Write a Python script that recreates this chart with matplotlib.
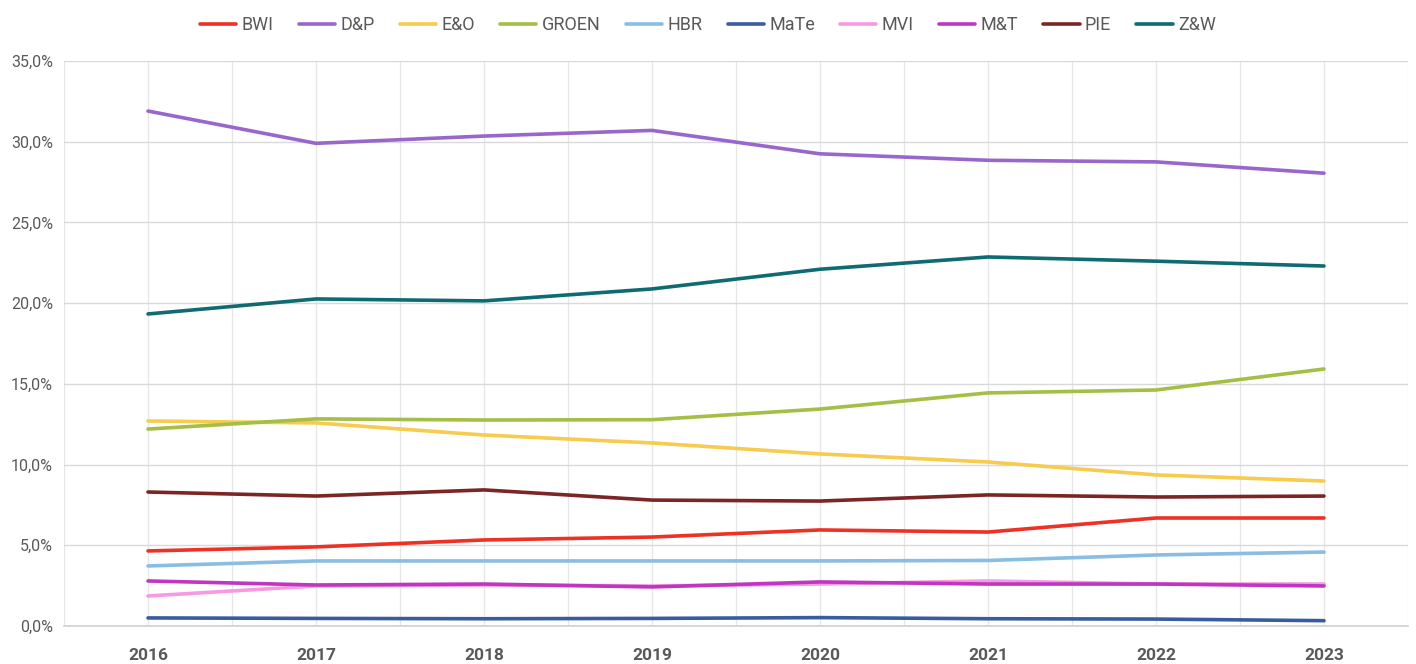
import matplotlib
matplotlib.use("Agg")
import matplotlib.pyplot as plt
from matplotlib.ticker import FuncFormatter, MultipleLocator

years = ["2016", "2017", "2018", "2019", "2020", "2021", "2022", "2023"]

BWI = [4.65, 4.90, 5.33, 5.51, 5.95, 5.82, 6.69, 6.69]
DP = [31.9, 29.9, 30.35, 30.7, 29.25, 28.85, 28.75, 28.05]
EO = [12.7, 12.58, 11.83, 11.34, 10.66, 10.16, 9.36, 8.98]
GROEN = [12.2, 12.83, 12.76, 12.78, 13.44, 14.44, 14.62, 15.92]
HBR = [3.72, 4.03, 4.03, 4.03, 4.03, 4.06, 4.40, 4.58]
MaTe = [0.50, 0.47, 0.45, 0.47, 0.52, 0.45, 0.43, 0.33]
MVI = [1.86, 2.48, 2.54, 2.48, 2.60, 2.79, 2.60, 2.60]
MT = [2.79, 2.54, 2.60, 2.42, 2.73, 2.60, 2.60, 2.48]
PIE = [8.30, 8.05, 8.43, 7.80, 7.74, 8.12, 7.99, 8.05]
ZW = [19.33, 20.26, 20.14, 20.88, 22.10, 22.86, 22.60, 22.30]

names = ["BWI", "D&P", "E&O", "GROEN", "HBR", "MaTe", "MVI", "M&T", "PIE", "Z&W"]
series = [BWI, DP, EO, GROEN, HBR, MaTe, MVI, MT, PIE, ZW]
colors = ["#EE3124", "#9966CC", "#F7CB4D", "#A5BE45", "#89BDE3", "#3A5C9E",
          "#F79AE3", "#C036C0", "#7B2525", "#0E6B72"]

plt.rcParams['font.family'] = ['Roboto', 'DejaVu Sans']

fig = plt.figure(figsize=(14.16, 6.64), dpi=100)
ax = fig.add_axes([64/1416, 38/664, (1408-64)/1416, (626-61)/664])

x = list(range(len(years)))
for name, vals, c in zip(names, series, colors):
    ax.plot(x, vals, color=c, lw=2.6, label=name, solid_capstyle='round', zorder=3)

ax.set_xlim(-0.5, len(years) - 0.5)
ax.set_ylim(0, 35)
ax.set_xticks(x)
ax.set_xticklabels(years)
ax.set_xticks([i + 0.5 for i in range(-1, len(years))], minor=True)
ax.yaxis.set_major_locator(MultipleLocator(5))
ax.yaxis.set_major_formatter(FuncFormatter(lambda v, p: f"{v:.1f}%".replace(".", ",")))

ax.grid(True, which='major', axis='both', color='#E6E6E6', lw=0.9, zorder=0)
ax.grid(True, which='minor', axis='x', color='#E6E6E6', lw=0.9, zorder=0)
ax.grid(True, which='major', axis='y', color='#D9D9D9', lw=1.0, zorder=0)

for s in ['top', 'right', 'left']:
    ax.spines[s].set_visible(False)
ax.spines['bottom'].set_color('#D0D0D0')
ax.spines['bottom'].set_linewidth(1.2)

ax.tick_params(axis='both', which='both', length=0)
ax.tick_params(axis='x', pad=16, labelsize=12.5, labelcolor='#595959')
ax.tick_params(axis='y', pad=8, labelsize=11.5, labelcolor='#595959')
for t in ax.get_xticklabels():
    t.set_fontweight('bold')

fig.legend(loc='upper center', bbox_to_anchor=(0.5, 1.0), ncol=10, frameon=False,
           fontsize=13, handlelength=2.0, handletextpad=0.3, columnspacing=1.4,
           labelcolor='#595959')

fig.savefig("out.png", dpi=100, facecolor='white')
